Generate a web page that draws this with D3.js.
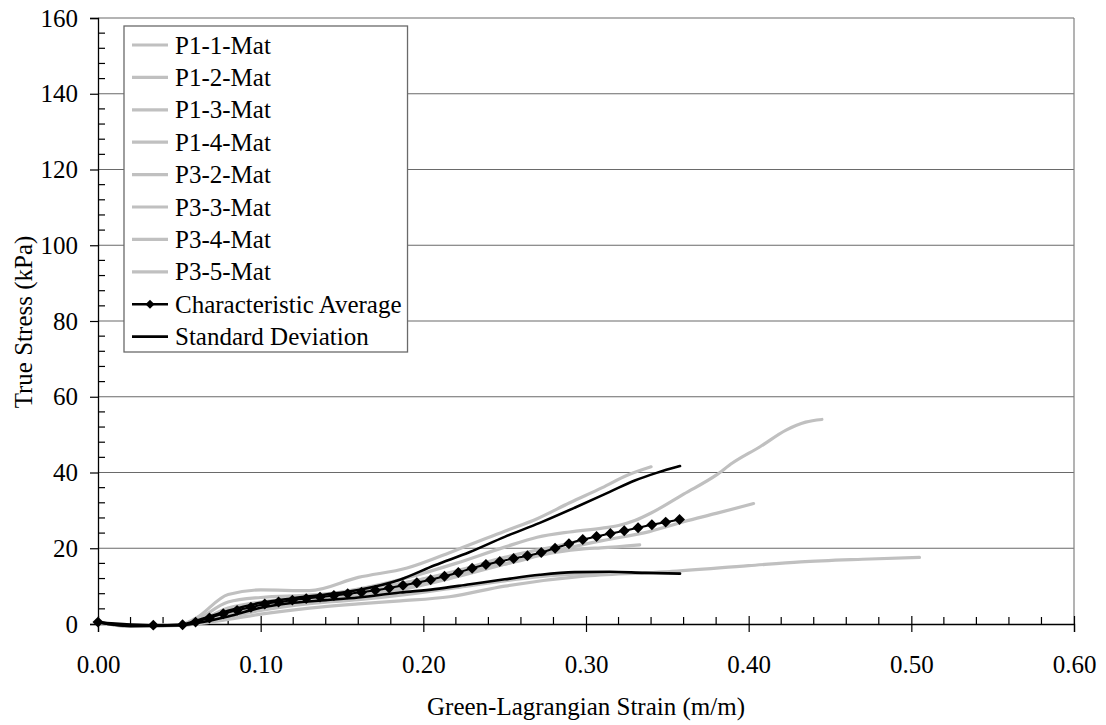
<!DOCTYPE html>
<html><head><meta charset="utf-8">
<script src="https://cdn.jsdelivr.net/npm/d3@7"></script>
<style>body{margin:0;background:#fff}svg{display:block}text{font-family:"Liberation Serif","Times New Roman",Times,serif;fill:#000}</style>
</head><body><svg id="c" width="1106" height="725" font-family="Liberation Serif"></svg>
<script>
const seriesNames = ["P1-1-Mat","P1-2-Mat","P1-3-Mat","P1-4-Mat","P3-2-Mat","P3-3-Mat","P3-4-Mat","P3-5-Mat"];
const xTicks = [0,0.1,0.2,0.3,0.4,0.5,0.6];
const yTicks = [0,20,40,60,80,100,120,140,160];

const p11x = [0,0.02,0.05,0.06,0.08,0.10,0.13,0.16,0.19,0.22,0.25,0.27,0.29,0.31,0.325,0.34];
const p11y = [0.5,-0.5,-0.2,1.5,7.8,9.0,8.8,12.3,14.8,19.5,24.5,27.8,32,36,39.2,41.5];
const p12x = [0,0.02,0.05,0.06,0.08,0.10,0.13,0.16,0.19,0.22,0.25,0.27,0.29,0.31,0.32,0.33,0.34,0.36,0.38,0.39,0.407,0.423,0.435,0.445];
const p12y = [0.5,-0.5,-0.3,0.5,4.2,5.8,7.2,9.2,12.2,16.0,20.3,22.9,24.3,25.3,26.0,27.3,29.3,34.3,39.3,42.5,46.8,51.2,53.3,54.0];
const p13x = [0,0.02,0.05,0.06,0.08,0.10,0.13,0.16,0.19,0.22,0.25,0.28,0.31,0.339,0.36,0.38,0.403];
const p13y = [0.5,-0.5,-0.3,0.3,2.5,4.5,6.0,7.4,9.4,12.4,15.8,19.2,22.0,24.4,27.0,29.2,31.8];
const p14x = [0,0.02,0.05,0.06,0.08,0.10,0.13,0.16,0.186,0.216,0.25,0.30,0.35,0.40,0.432,0.47,0.505];
const p14y = [0.5,-0.6,-0.4,0.0,1.2,2.6,4.2,5.3,6.1,7.2,10.0,12.7,13.8,15.4,16.4,17.1,17.6];
const p32x = [0,0.02,0.05,0.06,0.08,0.10,0.13,0.16,0.19,0.22,0.25,0.28,0.30,0.309,0.333];
const p32y = [0.5,-0.5,-0.3,0.8,3.6,5.4,7.0,8.5,11.0,13.5,15.8,18.8,19.9,20.1,20.9];
const p33x = [0,0.02,0.05,0.06,0.08,0.10,0.13,0.16,0.19,0.22,0.25,0.28,0.30];
const p33y = [0.5,-0.5,-0.3,1.0,5.8,7.0,7.6,8.8,11.0,14.0,17.6,20.4,22.3];
const p34x = [0,0.02,0.05,0.06,0.08,0.10,0.13,0.16,0.19,0.22,0.25,0.28,0.31,0.34,0.357];
const p34y = [0.5,-0.6,-0.4,0.1,1.8,3.6,5.4,6.4,7.8,9.6,11.4,12.8,13.4,13.6,13.8];
const p35x = [0,0.02,0.05,0.06,0.08,0.10,0.13,0.16,0.19,0.22,0.245];
const p35y = [0.5,-0.5,-0.3,0.6,3.2,5.0,6.6,8.0,10.2,13.0,15.8];

const avgX = [0,0.034,0.052,0.060,0.0685,0.077,0.0855,0.094,0.1025,0.111,0.1195,0.128,0.1365,0.145,0.1535,0.162,0.1705,0.179,0.1875,0.196,0.2045,0.213,0.2215,0.230,0.2385,0.247,0.2555,0.264,0.2725,0.281,0.2895,0.298,0.3065,0.315,0.3235,0.332,0.3405,0.349,0.3575];
const avgY = [0.5,-0.3,-0.2,0.5,1.6,2.7,3.6,4.4,5.3,5.8,6.3,6.7,7.1,7.5,8.0,8.4,8.9,9.5,10.2,10.9,11.7,12.6,13.6,14.7,15.7,16.5,17.3,18.0,18.9,20.0,21.2,22.3,23.1,23.9,24.6,25.4,26.2,26.9,27.6];
const sdUpX = [0,0.02,0.05,0.06,0.08,0.10,0.12,0.14,0.16,0.1856,0.207,0.2286,0.25,0.2716,0.293,0.3146,0.33,0.3434,0.3578];
const sdUpY = [0.5,-0.5,-0.3,0.8,3.5,5.6,6.8,7.8,9.0,11.7,15.5,19.0,23.0,26.7,30.7,34.9,37.9,39.9,41.7];
const sdLoX = [0,0.02,0.05,0.06,0.08,0.10,0.12,0.14,0.16,0.1856,0.207,0.2286,0.25,0.2716,0.293,0.3146,0.336,0.3578];
const sdLoY = [0.5,-0.5,-0.3,0.2,2.0,4.3,5.6,6.3,7.0,8.3,9.2,10.5,11.8,13.0,13.7,13.8,13.5,13.3];

const greyX = [p11x,p12x,p13x,p14x,p32x,p33x,p34x,p35x];
const greyY = [p11y,p12y,p13y,p14y,p32y,p33y,p34y,p35y];

const FONT = "Liberation Serif";
const FS = 25;
const svg = d3.select("#c");
const x = d3.scaleLinear().domain([0,0.6]).range([98,1074]);
const y = d3.scaleLinear().domain([0,160]).range([624,18]);
const grey = "#c0c0c0";

// gridlines
svg.append("g").selectAll("line").data(yTicks.slice(1)).join("line")
  .attr("x1",98).attr("x2",1074).attr("y1",d=>y(d)).attr("y2",d=>y(d))
  .attr("stroke","#6a6a6a").attr("stroke-width",1.2);
svg.append("line").attr("x1",1074).attr("x2",1074).attr("y1",18).attr("y2",624)
  .attr("stroke","#808080").attr("stroke-width",1.2);

// axes
const yMinor = [4,8,12,16,24,28,32,36,44,48,52,56,64,68,72,76,84,88,92,96,104,108,112,116,124,128,132,136,144,148,152,156];
const xMinor = [0.02,0.04,0.06,0.08,0.12,0.14,0.16,0.18,0.22,0.24,0.26,0.28,0.32,0.34,0.36,0.38,0.42,0.44,0.46,0.48,0.52,0.54,0.56,0.58];
const yAx = svg.append("g").attr("transform","translate(98,0)")
  .call(d3.axisLeft(y).tickValues(yTicks).tickSize(8).tickPadding(12).tickFormat(d3.format("d")));
yAx.attr("font-family",FONT);
yAx.select(".domain").attr("stroke","#000").attr("stroke-width",1.3);
yAx.selectAll(".tick line").attr("stroke","#000").attr("stroke-width",1.2);
yAx.selectAll("text").attr("font-size",FS).attr("font-family",FONT).attr("fill","#000");
svg.append("g").selectAll("line").data(yMinor).join("line")
  .attr("x1",98).attr("x2",105).attr("y1",d=>y(d)).attr("y2",d=>y(d)).attr("stroke","#000").attr("stroke-width",1.2);

const xAx = svg.append("g").attr("transform","translate(0,624)")
  .call(d3.axisBottom(x).tickValues(xTicks).tickSize(8).tickPadding(23).tickFormat(d3.format(".2f")));
xAx.attr("font-family",FONT);
xAx.select(".domain").attr("stroke","#000").attr("stroke-width",1.3);
xAx.selectAll(".tick line").attr("y1",-8).attr("stroke","#000").attr("stroke-width",1.2);
xAx.selectAll("text").attr("font-size",FS).attr("font-family",FONT).attr("fill","#000");
svg.append("g").selectAll("line").data(xMinor).join("line")
  .attr("x1",d=>x(d)).attr("x2",d=>x(d)).attr("y1",617).attr("y2",624).attr("stroke","#000").attr("stroke-width",1.2);

// axis titles
svg.append("text").attr("x",586).attr("y",715).attr("text-anchor","middle").attr("font-size",FS).attr("font-family",FONT).text("Green-Lagrangian Strain (m/m)");
svg.append("text").attr("transform","translate(32,322) rotate(-90)").attr("text-anchor","middle").attr("font-size",FS).attr("font-family",FONT).text("True Stress (kPa)");

// lines
const line = d3.line().x(d=>x(d[0])).y(d=>y(d[1])).curve(d3.curveMonotoneX);
const zipPts = (xs,ys)=>xs.map((v,i)=>[v,ys[i]]);
const plot = svg.append("g");
greyX.forEach((xs,i)=>{
  plot.append("path").attr("d",line(zipPts(xs,greyY[i]))).attr("fill","none")
    .attr("stroke",grey).attr("stroke-width",3.2).attr("stroke-linecap","round");
});
[[sdUpX,sdUpY],[sdLoX,sdLoY]].forEach(([xs,ys])=>{
  plot.append("path").attr("d",line(zipPts(xs,ys))).attr("fill","none")
    .attr("stroke","#000").attr("stroke-width",2.6).attr("stroke-linecap","round");
});
const avgPts = zipPts(avgX,avgY);
plot.append("path").attr("d",line(avgPts)).attr("fill","none").attr("stroke","#000").attr("stroke-width",2);
const diamond = d3.symbol().type(d3.symbolSquare).size(60);
plot.selectAll(".dm").data(avgPts).join("path").attr("class","dm")
  .attr("transform",d=>`translate(${x(d[0])},${y(d[1])}) rotate(45)`).attr("d",diamond).attr("fill","#000");

// legend
const lg = svg.append("g");
const box = lg.append("rect").attr("x",124).attr("y",26).attr("height",326)
  .attr("fill","#fff").attr("stroke","#6a6a6a").attr("stroke-width",1.3);
const legendNames = seriesNames.concat(["Characteristic Average","Standard Deviation"]);
let maxW = 0;
legendNames.forEach((n,i)=>{
  const cy = 45 + i*32.4;
  const col = i<8 ? grey : "#000";
  lg.append("line").attr("x1",132).attr("x2",168).attr("y1",cy).attr("y2",cy)
    .attr("stroke",col).attr("stroke-width",i<8?3.2:2.6);
  if(i===8) lg.append("path").attr("transform",`translate(150,${cy}) rotate(45)`).attr("d",d3.symbol().type(d3.symbolSquare).size(40)).attr("fill","#000");
  const t = lg.append("text").attr("x",175).attr("y",cy+8.5).attr("font-size",FS).attr("font-family",FONT).text(n);
  maxW = Math.max(maxW, t.node().getComputedTextLength());
});
box.attr("width", 175 - 124 + maxW + 6);
</script></body></html>
